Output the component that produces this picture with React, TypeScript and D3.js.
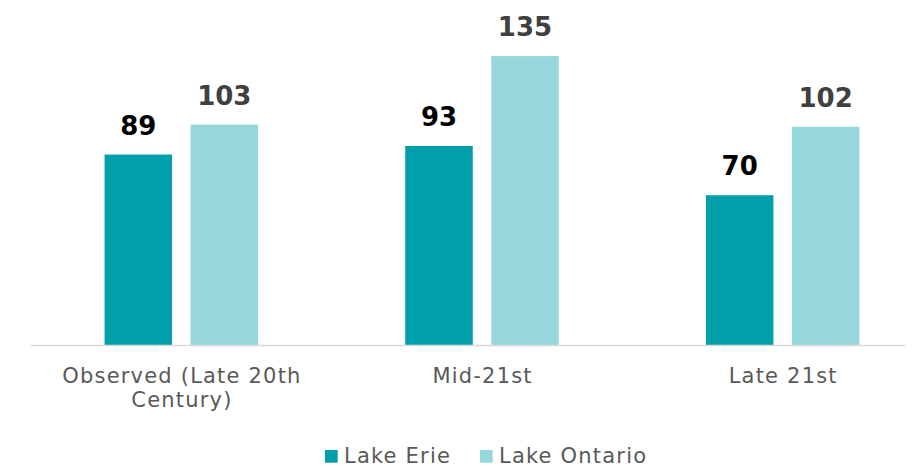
import React from "react";
import * as d3 from "d3";

const categories = ["Observed (Late 20th|Century)", "Mid-21st", "Late 21st"];
const series = ["Lake Erie", "Lake Ontario"];
const erieValues = [89, 93, 70];
const ontarioValues = [103, 135, 102];

const colors = ["#009FAA", "#96D7DC"];
const labelColors = ["#000000", "#404040"];

export default function App() {
  const W = 921, H = 467;
  const baseY = 345;
  const y = d3.scaleLinear().domain([0, 160]).range([baseY, baseY - 160 * 2.14]);
  const x = d3.scaleBand<string>().domain(categories).range([31, 933]).padding(0);
  const groupW = 153.5;
  const sub = d3.scaleBand<string>().domain(series).range([0, groupW]).paddingInner(0.215).paddingOuter(0);
  const data = [erieValues, ontarioValues];
  const font = "'DejaVu Sans', sans-serif";
  const ls = 1.2;

  return (
    <svg width={W} height={H} style={{ position: "absolute", left: 0, top: 0 }}>
      <rect width={W} height={H} fill="#fff" />
      {categories.map((c, ci) => {
        const cx = (x(c) as number) + x.bandwidth() / 2;
        const gx = cx - groupW / 2;
        return (
          <g key={c}>
            {series.map((s, si) => {
              const v = data[si][ci];
              const bx = gx + (sub(s) as number);
              return (
                <g key={s}>
                  <rect x={bx} y={y(v)} width={sub.bandwidth()} height={baseY - y(v)} fill={colors[si]} />
                  <text x={bx + sub.bandwidth() / 2} y={y(v) - 20} textAnchor="middle" fontFamily={font} fontWeight="bold" fontSize={26} fill={labelColors[si]}>{v}</text>
                </g>
              );
            })}
            {c.split("|").map((line, li) => (
              <text key={li} x={cx + ls / 2} y={383 + li * 24} textAnchor="middle" fontFamily={font} fontSize={21} letterSpacing={ls} fill="#595959">{line}</text>
            ))}
          </g>
        );
      })}
      <line x1={31} x2={905} y1={baseY + 0.5} y2={baseY + 0.5} stroke="#D9D9D9" strokeWidth={1.5} />
      <g>
        <rect x={325} y={450} width={12.7} height={12.7} fill={colors[0]} />
        <text x={344} y={462.7} fontFamily={font} fontSize={21} letterSpacing={ls} fill="#595959">{series[0]}</text>
        <rect x={480} y={450} width={12.7} height={12.7} fill={colors[1]} />
        <text x={499} y={462.7} fontFamily={font} fontSize={21} letterSpacing={ls} fill="#595959">{series[1]}</text>
      </g>
    </svg>
  );
}
